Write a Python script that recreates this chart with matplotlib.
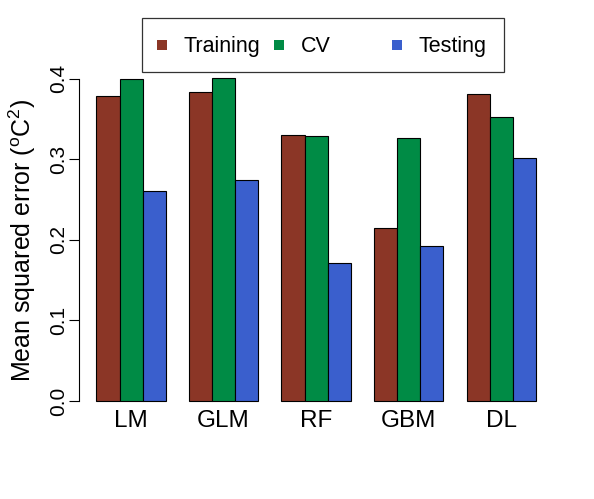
import matplotlib
matplotlib.use("Agg")
import matplotlib.pyplot as plt
from matplotlib.patches import Rectangle
import numpy as np

# values
models = ["LM", "GLM", "RF", "GBM", "DL"]
series = ["Training", "CV", "Testing"]
training = [0.379, 0.3835, 0.330, 0.215, 0.381]
cv = [0.400, 0.401, 0.329, 0.326, 0.353]
testing = [0.2605, 0.2745, 0.171, 0.193, 0.3015]
colors = ["#8B3626", "#008B45", "#3A5FCD"]  # tomato4, springgreen4, royalblue3
yticks = [0.0, 0.1, 0.2, 0.3, 0.4]

W, H = 594, 499
plt.rcParams["font.family"] = ["Liberation Sans", "DejaVu Sans"]
plt.rcParams["mathtext.default"] = "regular"

fig = plt.figure(figsize=(W / 100, H / 100), dpi=100)
ax = fig.add_axes([78.8 / W, 1 - 413.9 / H, (553.5 - 78.8) / W, (413.9 - 66) / H])


def px(x, y):
    """pixel position (from top-left) -> figure fraction"""
    return x / W, 1 - y / H


# R style barplot, beside=TRUE, space=c(0,1)
for k, (vals, col) in enumerate(zip([training, cv, testing], colors)):
    x = 1 + 4 * np.arange(len(models)) + k
    ax.bar(x, vals, width=1, align="edge", color=col, edgecolor="black",
           linewidth=0.8, clip_on=False)

ax.set_xlim(0.24, 20.76)
ax.set_ylim(-0.016, 0.416)

ax.set_xticks(2.5 + 4 * np.arange(len(models)))
ax.set_xticklabels(models, fontsize=17.5)
ax.tick_params(axis="x", length=0, pad=-3)

ax.set_yticks(yticks)
ax.set_yticklabels([f"{v:.1f}" for v in yticks], rotation=90, va="center",
                   fontsize=15)
ax.tick_params(axis="y", length=7, width=0.8, pad=1)

for s in ["top", "right", "bottom"]:
    ax.spines[s].set_visible(False)
ax.spines["left"].set_bounds(0, 0.4)
ax.spines["left"].set_linewidth(0.8)

ax.set_ylabel(r"Mean squared error ($^{o}$C$^{2}$)", fontsize=18)
ax.yaxis.set_label_coords(-0.085, 0.5)

# legend box, drawn like R's legend(ncol=3)
x0, y0 = px(141.7, 71.7)
x1, y1 = px(504, 18)
fig.patches.append(Rectangle((x0, y0), x1 - x0, y1 - y0, transform=fig.transFigure,
                             facecolor="white", edgecolor="#333333", linewidth=0.9))
for i, (name, col) in enumerate(zip(series, colors)):
    sx = 156.7 + 117.5 * i
    qx, qy = px(sx, 50)
    fig.patches.append(Rectangle((qx, qy), 10 / W, 10 / H, transform=fig.transFigure,
                                 facecolor=col, edgecolor="none"))
    tx, ty = px(sx + 26.6, 52.3)
    fig.text(tx, ty, name, fontsize=15.5, ha="left", va="baseline")

fig.savefig("out.png", dpi=100)
